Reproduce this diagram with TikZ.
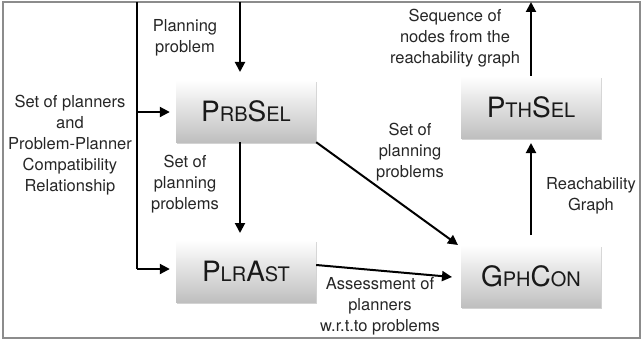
\documentclass[tikz,border=0pt]{standalone}
\usepackage{fontspec}
\setmainfont{TeX Gyre Heros}
\usetikzlibrary{arrows.meta,shadows,positioning}
\newcommand{\fsc}[1]{{\fontsize{20}{20}\selectfont #1}}
\begin{document}
\begin{tikzpicture}[x=1pt,y=-1pt,
  procbox/.style={draw=none,minimum width=140pt,minimum height=62pt,
    top color=white,bottom color=black!25,
    drop shadow={shadow xshift=1pt,shadow yshift=-2pt,opacity=0.35},
    font=\fontsize{28}{28}\selectfont,text=black!90,inner sep=0pt},
  lbl/.style={align=center,font=\fontsize{16.5}{21}\selectfont,text=black!85,inner sep=0pt},
  flow/.style={line width=2pt,-{Triangle[length=10pt,width=10pt]}},
  plain/.style={line width=2pt}]
\useasboundingbox (0,0) rectangle (642,345);
\draw[line width=2pt,draw=black!45] (3,2) rectangle (640,338);

\node[procbox] (prb) at (246,111) {P\fsc{RB}S\fsc{EL}};
\node[procbox] (plr) at (246,271) {P\fsc{LR}A\fsc{ST}};
\node[procbox] (pth) at (531,107) {P\fsc{TH}S\fsc{EL}};
\node[procbox] (gph) at (531,276) {G\fsc{PH}C\fsc{ON}};

\coordinate (topin) at (240,2);
\coordinate (topout) at (531,2);
\coordinate (lefttop) at (137,2);
\coordinate (leftmid) at (137,112);
\coordinate (leftbot) at (137,269);

\draw[flow] (topin) -- (240,72);
\draw[plain] (lefttop) -- (leftbot);
\draw[flow] (leftmid) -- ([yshift=-1pt,xshift=-6pt]prb.west);
\draw[flow] (leftbot) -- ([yshift=2pt,xshift=-6pt]plr.west);
\draw[flow] (240,142) -- (240,233);
\draw[flow] (prb.south east) -- (458,245);
\draw[flow] ([yshift=6pt]plr.east) -- (452,277);
\draw[flow] (531,235) -- (531,143);
\draw[flow] (pth.north) -- (topout);

\node[lbl] (l1) at (185,38) {Planning\\problem};
\node[lbl] (l2) at (70,145) {Set of planners\\and\\Problem-Planner\\Compatibility\\Relationship};
\node[lbl] (l3) at (185,184) {Set of\\planning\\problems};
\node[lbl] (l4) at (410,152) {Set of\\planning\\problems};
\node[lbl] (l5) at (455,38) {Sequence of\\nodes from the\\reachability graph};
\node[lbl] (l6) at (591,196) {Reachability\\Graph};
\node[lbl] (l7) at (380,306) {Assessment of\\planners\\w.r.t.to problems};
\end{tikzpicture}
\end{document}
